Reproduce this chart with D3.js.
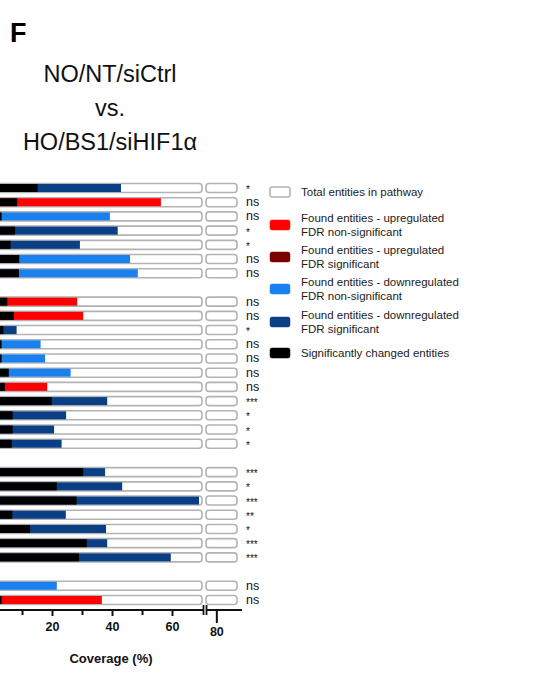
<!DOCTYPE html>
<html><head><meta charset="utf-8">
<script src="https://cdn.jsdelivr.net/npm/d3@7"></script>
<style>html,body{margin:0;padding:0;background:#fff;}svg{display:block;}</style>
</head><body>
<script>
// ---- data ----
const groupSizes = [7, 11, 7, 2];
const foundPct = [43, 56.3, 39.3, 41.9, 29.3, 46, 48.6,
  28.4, 30.4, 8.2, 16.2, 17.7, 26.2, 18.4, 38.4, 24.7, 20.7, 23.2,
  37.7, 43.4, 69, 24.6, 38, 38.4, 59.6,
  21.6, 36.6];
const sigPct = [15.2, 8.4, 3.2, 7.7, 6.2, 9.1, 9,
  5.1, 7.3, 3.8, 3.2, 3.2, 5.6, 4.3, 19.9, 6.9, 6.9, 6.6,
  30.4, 21.6, 28.2, 6.8, 12.7, 31.6, 29,
  0, 3.2];
const foundType = ["downSig", "up", "down", "downSig", "downSig", "down", "down",
  "up", "up", "downSig", "down", "down", "down", "up", "downSig", "downSig", "downSig", "downSig",
  "downSig", "downSig", "downSig", "downSig", "downSig", "downSig", "downSig",
  "down", "up"];
const signifLabels = ["*", "ns", "ns", "*", "*", "ns", "ns",
  "ns", "ns", "*", "ns", "ns", "ns", "ns", "***", "*", "*", "*",
  "***", "*", "***", "**", "*", "***", "***",
  "ns", "ns"];
const majorTicks = [20, 40, 60];
const minorTicks = [10, 30, 50];
const brokenTicks = [80];
const legendLabels = [
  ["Total entities in pathway"],
  ["Found entities - upregulated", "FDR non-significant"],
  ["Found entities - upregulated", "FDR significant"],
  ["Found entities - downregulated", "FDR non-significant"],
  ["Found entities - downregulated", "FDR significant"],
  ["Significantly changed entities"]
];
const legendKeys = ["total", "up", "upSig", "down", "downSig", "sig"];
const titleLines = ["NO/NT/siCtrl", "vs.", "HO/BS1/siHIF1α"];

// ---- styles ----
const colors = {total: "#ffffff", up: "#ff0000", upSig: "#7a0000", down: "#1a80f0", downSig: "#0b3f85", sig: "#000000"};
const FONT = "'Liberation Sans', Arial, Helvetica, sans-serif";

const W = 536, H = 675;
const svg = d3.select("body").append("svg").attr("width", W).attr("height", H)
  .style("font-family", FONT);

// slots with empty slot between groups
const slots = [];
let s = 0;
groupSizes.forEach((n) => { for (let i = 0; i < n; i++) slots.push(s++); s++; });
const nSlots = s - 1;
const y = d3.scaleLinear().domain([0, nSlots - 1]).range([188, 600]);

const x1 = d3.scaleLinear().domain([0, 70]).range([-8, 202]);
const x2 = d3.scaleLinear().domain([70, 100]).range([206, 237]);

// title
svg.append("text").attr("x", 10).attr("y", 42).attr("font-size", 27).attr("font-weight", "bold").text("F");
titleLines.forEach((t, i) => {
  svg.append("text").attr("x", 110).attr("y", 82 + i * 34).attr("text-anchor", "middle")
    .attr("font-size", 23.5).attr("fill", "#111").text(t);
});

const barH = 9, innerH = 8;
const rows = svg.append("g");
foundPct.forEach((f, i) => {
  const cy = y(slots[i]);
  const g = rows.append("g");
  g.append("rect").attr("x", x1(0)).attr("y", cy - barH / 2).attr("width", x1(70) - x1(0)).attr("height", barH)
    .attr("rx", 3).attr("fill", "#fff").attr("stroke", "#b3b3b3").attr("stroke-width", 1.6);
  g.append("rect").attr("x", x2(70)).attr("y", cy - barH / 2).attr("width", x2(100) - x2(70)).attr("height", barH)
    .attr("rx", 3).attr("fill", "#fff").attr("stroke", "#b3b3b3").attr("stroke-width", 1.6);
  g.append("rect").attr("x", x1(0)).attr("y", cy - innerH / 2).attr("width", x1(f) - x1(0)).attr("height", innerH)
    .attr("fill", colors[foundType[i]]);
  if (sigPct[i] > 0)
    g.append("rect").attr("x", x1(0)).attr("y", cy - innerH / 2).attr("width", x1(sigPct[i]) - x1(0)).attr("height", innerH)
      .attr("fill", colors.sig);
  const lab = signifLabels[i];
  g.append("text").attr("x", 246).attr("y", lab === "ns" ? cy + 4 : cy + 5)
    .attr("font-size", lab === "ns" ? 12.5 : 10).attr("fill", "#111").text(lab);
});

// axis
const axY = 610;
const axG = svg.append("g").attr("transform", `translate(0,${axY})`);
axG.append("line").attr("x1", -8).attr("x2", 242).attr("y1", 0).attr("y2", 0).attr("stroke", "#111").attr("stroke-width", 2);
const axMajor = d3.axisBottom(x1).tickValues(majorTicks).tickSize(6).tickPadding(6);
const gMaj = axG.append("g").call(axMajor);
const axMinor = d3.axisBottom(x1).tickValues(minorTicks).tickSize(5).tickFormat("");
const gMin = axG.append("g").call(axMinor);
const axBreak = d3.axisBottom(x2).tickValues(brokenTicks).tickSize(13).tickPadding(4);
const gBr = axG.append("g").call(axBreak);
[gMaj, gMin, gBr].forEach(g => {
  g.select(".domain").remove();
  g.selectAll(".tick line").attr("stroke", "#111").attr("stroke-width", 2);
  g.selectAll(".tick text").attr("font-size", 12.5).attr("font-weight", "bold").attr("fill", "#111")
    .style("font-family", FONT);
});
// break marks
axG.append("rect").attr("x", 203).attr("y", -6).attr("width", 4).attr("height", 11).attr("fill", "#fff");
axG.append("line").attr("x1", 203.5).attr("x2", 203.5).attr("y1", -5).attr("y2", 5).attr("stroke", "#111").attr("stroke-width", 1.8);
axG.append("line").attr("x1", 206.5).attr("x2", 206.5).attr("y1", -5).attr("y2", 5).attr("stroke", "#111").attr("stroke-width", 1.8);

svg.append("text").attr("x", 111).attr("y", 663).attr("text-anchor", "middle").attr("font-size", 13)
  .attr("font-weight", "bold").attr("fill", "#111").text("Coverage (%)");

// legend
const legY = [192, 225, 257, 289, 322, 353];
const leg = svg.append("g");
legendKeys.forEach((k, i) => {
  const cy = legY[i];
  leg.append("rect").attr("x", 270).attr("y", cy - 5).attr("width", 20).attr("height", 10).attr("rx", 2)
    .attr("fill", colors[k]).attr("stroke", k === "total" ? "#b3b3b3" : colors[k]).attr("stroke-width", k === "total" ? 1.6 : 0.5);
  const lines = legendLabels[i];
  lines.forEach((t, j) => {
    const ty = lines.length === 1 ? cy + 4 : cy - 3 + j * 14;
    leg.append("text").attr("x", 301).attr("y", ty).attr("font-size", 11.5).attr("fill", "#222").text(t);
  });
});
</script>
</body></html>
